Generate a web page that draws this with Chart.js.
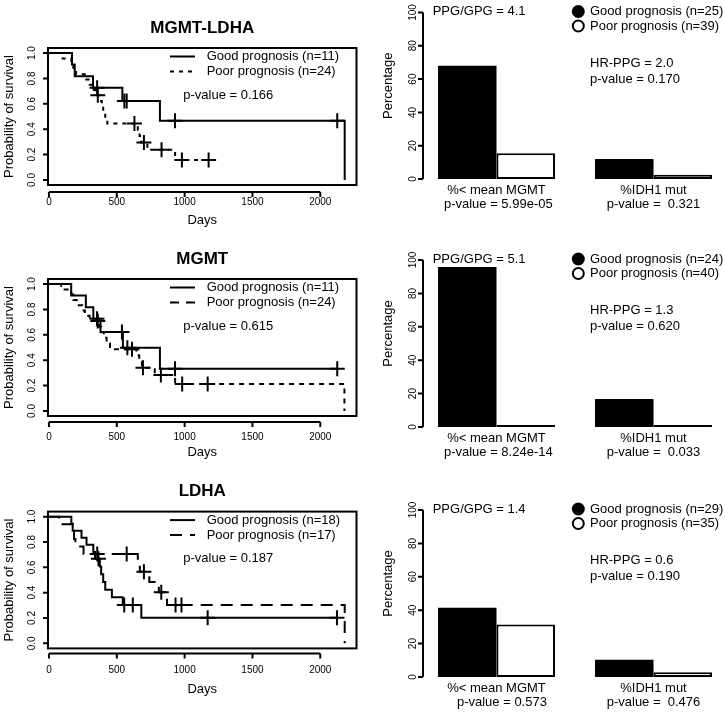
<!DOCTYPE html>
<html>
<head>
<meta charset="utf-8">
<title>Survival and prognosis groups</title>
<script src="https://cdn.jsdelivr.net/npm/chart.js@4.4.1/dist/chart.umd.min.js"></script>
<style>
  html, body { margin: 0; padding: 0; background: #ffffff; width: 725px; height: 712px; overflow: hidden; }
  canvas { position: absolute; }
</style>
</head>
<body>
<canvas id="km1" width="366" height="230" style="left:0px;top:0px"></canvas>
<canvas id="km2" width="366" height="240" style="left:0px;top:230px"></canvas>
<canvas id="km3" width="366" height="242" style="left:0px;top:470px"></canvas>
<canvas id="bar1" width="375" height="230" style="left:360px;top:0px"></canvas>
<canvas id="bar2" width="375" height="240" style="left:360px;top:230px"></canvas>
<canvas id="bar3" width="375" height="242" style="left:360px;top:470px"></canvas>
<script>
const FONT = '"Liberation Sans", Arial, Helvetica, sans-serif';
Chart.defaults.font.family = FONT;
Chart.defaults.color = '#000';

// ---------- shared axis values ----------
const dayTicks = [0, 500, 1000, 1500, 2000];
const survTicks = [0, 0.2, 0.4, 0.6, 0.8, 1.0];
const survTickLabels = ['0.0', '0.2', '0.4', '0.6', '0.8', '1.0'];
const pctTicks = [0, 20, 40, 60, 80, 100];
const barCategories = ['%< mean MGMT', '%IDH1 mut'];
const kmXTitle = 'Days';
const kmYTitle = 'Probability of survival';
const barYTitle = 'Percentage';

// ---------- Panel 1: MGMT-LDHA ----------
const km1Title = 'MGMT-LDHA';
const km1Legend = ['Good prognosis (n=11)', 'Poor prognosis (n=24)'];
const km1PValue = 'p-value = 0.166';
const km1GoodDays = [0, 170, 190, 325, 541, 818, 2180];
const km1GoodSurv = [1, 0.909, 0.818, 0.727, 0.623, 0.467, 0];
const km1GoodCensDays = [355, 556, 573, 929, 2125];
const km1GoodCensSurv = [0.727, 0.623, 0.623, 0.467, 0.467];
const km1PoorDays = [0, 90, 165, 180, 200, 275, 300, 330, 345, 375, 390, 400, 415, 430, 655, 668, 680, 725, 930, 1177];
const km1PoorSurv = [1, 0.958, 0.917, 0.875, 0.833, 0.792, 0.75, 0.708, 0.667, 0.622, 0.578, 0.533, 0.489, 0.444, 0.395, 0.346, 0.296, 0.237, 0.158, 0.158];
const km1PoorCensDays = [360, 630, 700, 830, 980, 1177];
const km1PoorCensSurv = [0.667, 0.444, 0.296, 0.237, 0.158, 0.158];

// ---------- Panel 2: MGMT ----------
const km2Title = 'MGMT';
const km2Legend = ['Good prognosis (n=11)', 'Poor prognosis (n=24)'];
const km2PValue = 'p-value = 0.615';
const km2GoodDays = [0, 164, 272, 327, 380, 545, 818, 2125];
const km2GoodSurv = [1, 0.909, 0.818, 0.727, 0.623, 0.498, 0.332, 0.332];
const km2GoodCensDays = [354, 538, 578, 929, 2125];
const km2GoodCensSurv = [0.727, 0.623, 0.498, 0.332, 0.332];
const km2PoorDays = [0, 90, 165, 180, 205, 245, 265, 300, 370, 385, 405, 425, 450, 645, 665, 685, 780, 930, 2178];
const km2PoorSurv = [1, 0.958, 0.917, 0.875, 0.833, 0.792, 0.75, 0.708, 0.664, 0.62, 0.576, 0.531, 0.487, 0.438, 0.39, 0.341, 0.284, 0.213, 0];
const km2PoorCensDays = [360, 612, 693, 825, 982, 1170];
const km2PoorCensSurv = [0.708, 0.487, 0.341, 0.284, 0.213, 0.213];

// ---------- Panel 3: LDHA ----------
const km3Title = 'LDHA';
const km3Legend = ['Good prognosis (n=18)', 'Poor prognosis (n=17)'];
const km3PValue = 'p-value = 0.187';
const km3GoodDays = [0, 165, 175, 240, 277, 327, 340, 375, 385, 400, 415, 464, 544, 681, 2123];
const km3GoodSurv = [1, 0.944, 0.889, 0.833, 0.778, 0.722, 0.667, 0.606, 0.545, 0.485, 0.424, 0.364, 0.303, 0.202, 0.202];
const km3GoodCensDays = [365, 555, 618, 1170, 2123];
const km3GoodCensSurv = [0.667, 0.303, 0.303, 0.202, 0.202];
const km3PoorDays = [0, 75, 175, 185, 195, 255, 655, 670, 740, 810, 870, 2180];
const km3PoorSurv = [1, 0.941, 0.882, 0.824, 0.765, 0.706, 0.635, 0.565, 0.484, 0.404, 0.303, 0];
const km3PoorCensDays = [356, 573, 700, 828, 933, 977];
const km3PoorCensSurv = [0.706, 0.706, 0.565, 0.404, 0.303, 0.303];

// ---------- Bar panels ----------
const bar1Good = [68, 12];
const bar1Poor = [15.4, 2.6];
const bar1Legend = ['Good prognosis (n=25)', 'Poor prognosis (n=39)'];
const bar1Ratio = 'PPG/GPG = 4.1';
const bar1HR = ['HR-PPG = 2.0', 'p-value = 0.170'];
const bar1PValues = [' p-value = 5.99e-05', 'p-value =  0.321'];

const bar2Good = [95.8, 16.7];
const bar2Poor = [0, 0];
const bar2Legend = ['Good prognosis (n=24)', 'Poor prognosis (n=40)'];
const bar2Ratio = 'PPG/GPG = 5.1';
const bar2HR = ['HR-PPG = 1.3', 'p-value = 0.620'];
const bar2PValues = [' p-value = 8.24e-14', 'p-value =  0.033'];

const bar3Good = [41.4, 10.3];
const bar3Poor = [31.4, 2.9];
const bar3Legend = ['Good prognosis (n=29)', 'Poor prognosis (n=35)'];
const bar3Ratio = 'PPG/GPG = 1.4';
const bar3HR = ['HR-PPG = 0.6', 'p-value = 0.190'];
const bar3PValues = ['   p-value = 0.573', 'p-value =  0.476'];

// ---------- helpers ----------
const pts = (xs, ys) => xs.map((d, i) => ({ x: d, y: ys[i] }));

function rotText(ctx, text, x, y) {
  ctx.save();
  ctx.translate(x, y);
  ctx.rotate(-Math.PI / 2);
  ctx.fillText(text, 0, 0);
  ctx.restore();
}

function kmDecor(cfg) {
  return {
    id: 'kmDecor',
    afterDraw(chart) {
      const { ctx, chartArea: a } = chart;
      const xs = chart.scales.x, ys = chart.scales.y;
      const cx = (a.left + a.right) / 2;
      ctx.save();
      ctx.strokeStyle = '#000';
      ctx.fillStyle = '#000';
      ctx.lineWidth = 2;
      ctx.setLineDash([]);
      ctx.strokeRect(a.left, a.top, a.right - a.left, a.bottom - a.top);
      const ay = a.bottom + cfg.axisGap;
      ctx.beginPath();
      ctx.moveTo(xs.getPixelForValue(dayTicks[0]), ay);
      ctx.lineTo(xs.getPixelForValue(dayTicks[dayTicks.length - 1]), ay);
      dayTicks.forEach(v => { const px = xs.getPixelForValue(v); ctx.moveTo(px, ay); ctx.lineTo(px, ay + 5); });
      survTicks.forEach(v => { const py = ys.getPixelForValue(v); ctx.moveTo(a.left, py); ctx.lineTo(a.left - 5, py); });
      ctx.stroke();
      ctx.textAlign = 'center';
      ctx.textBaseline = 'middle';
      ctx.font = '10px ' + FONT;
      survTicks.forEach((v, i) => rotText(ctx, survTickLabels[i], a.left - 16, ys.getPixelForValue(v)));
      ctx.font = '13px ' + FONT;
      rotText(ctx, kmYTitle, a.left - 39, (a.top + a.bottom) / 2);
      ctx.fillText(kmXTitle, cx, a.bottom + cfg.daysGap);
      ctx.font = 'bold 17px ' + FONT;
      ctx.fillText(cfg.title, cx, a.top - 20);
      // legend
      ctx.font = '13px ' + FONT;
      ctx.textAlign = 'left';
      const l0 = a.left + 122, l1 = a.left + 147, tx = a.left + 158.7;
      ctx.beginPath(); ctx.moveTo(l0, a.top + 8.5); ctx.lineTo(l1, a.top + 8.5); ctx.stroke();
      ctx.setLineDash(cfg.legendDash);
      ctx.beginPath(); ctx.moveTo(l0, a.top + 23.5); ctx.lineTo(l1, a.top + 23.5); ctx.stroke();
      ctx.setLineDash([]);
      ctx.fillText(cfg.legend[0], tx, a.top + 8.5);
      ctx.fillText(cfg.legend[1], tx, a.top + 23.5);
      ctx.fillText(cfg.pValue, a.left + 135.3, a.top + 47);
      ctx.restore();
    }
  };
}

function kmChart(id, cfg) {
  return new Chart(document.getElementById(id), {
    type: 'line',
    data: {
      datasets: [
        { label: cfg.legend[0], data: pts(cfg.goodDays, cfg.goodSurv), stepped: 'before',
          borderColor: '#000', borderWidth: 2, pointRadius: 0, fill: false },
        { label: cfg.legend[1], data: pts(cfg.poorDays, cfg.poorSurv), stepped: 'before',
          borderColor: '#000', borderWidth: 2, borderDash: cfg.poorDash, pointRadius: 0, fill: false },
        { label: 'Censored (good)', data: pts(cfg.goodCensDays, cfg.goodCensSurv), showLine: false,
          pointStyle: 'cross', pointRadius: 7.5, pointBorderWidth: 2, pointBorderColor: '#000', pointBackgroundColor: '#000' },
        { label: 'Censored (poor)', data: pts(cfg.poorCensDays, cfg.poorCensSurv), showLine: false,
          pointStyle: 'cross', pointRadius: 7.5, pointBorderWidth: 2, pointBorderColor: '#000', pointBackgroundColor: '#000' }
      ]
    },
    options: {
      responsive: false,
      animation: false,
      events: [],
      layout: { padding: { top: cfg.padTop, right: 3, bottom: 0, left: 0 } },
      plugins: { legend: { display: false }, tooltip: { enabled: false }, title: { display: false } },
      scales: {
        x: {
          type: 'linear', min: -7, max: 2267,
          afterBuildTicks: s => { s.ticks = dayTicks.map(v => ({ value: v })); },
          ticks: { autoSkip: false, maxRotation: 0, padding: cfg.tickPad, font: { size: 10 }, color: '#000', callback: v => String(v) },
          grid: { display: false, drawTicks: false },
          border: { display: false },
          afterFit: s => { s.height = cfg.xHeight; }
        },
        y: {
          type: 'linear', min: -0.04, max: 1.04,
          afterBuildTicks: s => { s.ticks = survTicks.map(v => ({ value: v })); },
          ticks: { display: false },
          grid: { display: false, drawTicks: false },
          border: { display: false },
          afterFit: s => { s.width = 48; }
        }
      }
    },
    plugins: [kmDecor(cfg)]
  });
}

function barDecor(cfg) {
  return {
    id: 'barDecor',
    afterDraw(chart) {
      const { ctx, chartArea: a } = chart;
      const ys = chart.scales.y;
      const axisX = a.left + 5;
      const y100 = ys.getPixelForValue(100);
      ctx.save();
      ctx.strokeStyle = '#000';
      ctx.fillStyle = '#000';
      ctx.lineWidth = 2;
      ctx.beginPath();
      ctx.moveTo(axisX, ys.getPixelForValue(pctTicks[0]));
      ctx.lineTo(axisX, ys.getPixelForValue(pctTicks[pctTicks.length - 1]));
      pctTicks.forEach(v => { const py = ys.getPixelForValue(v); ctx.moveTo(axisX, py); ctx.lineTo(axisX - 5, py); });
      ctx.stroke();
      ctx.textAlign = 'center';
      ctx.textBaseline = 'middle';
      ctx.font = '10px ' + FONT;
      pctTicks.forEach(v => rotText(ctx, String(v), axisX - 10, ys.getPixelForValue(v)));
      ctx.font = '13px ' + FONT;
      rotText(ctx, barYTitle, a.left - 30, ys.getPixelForValue(56));
      ctx.textAlign = 'left';
      ctx.fillText(cfg.ratio, a.left + 14.7, y100 - 1);
      // legend
      const cxl = a.left + 160.3, tx = a.left + 172;
      const r1 = y100 - 1, r2 = y100 + 13.5;
      ctx.beginPath(); ctx.arc(cxl, r1, 6.5, 0, Math.PI * 2); ctx.fill();
      ctx.fillStyle = '#fff';
      ctx.beginPath(); ctx.arc(cxl, r2, 5.5, 0, Math.PI * 2); ctx.fill(); ctx.stroke();
      ctx.fillStyle = '#000';
      ctx.fillText(cfg.legend[0], tx, r1);
      ctx.fillText(cfg.legend[1], tx, r2);
      ctx.fillText(cfg.hr[0], tx, y100 + 50.5);
      ctx.fillText(cfg.hr[1], tx, y100 + 66.5);
      ctx.restore();
    }
  };
}

function barChart(id, cfg) {
  return new Chart(document.getElementById(id), {
    type: 'bar',
    data: {
      labels: barCategories.map((c, i) => [c, cfg.pValues[i]]),
      datasets: [
        { label: cfg.legend[0], data: cfg.good, backgroundColor: '#000', borderColor: '#000', borderWidth: 0 },
        { label: cfg.legend[1], data: cfg.poor, backgroundColor: '#fff', borderColor: '#000', borderWidth: 2,
          borderSkipped: false, minBarLength: 2 }
      ]
    },
    options: {
      responsive: false,
      animation: false,
      events: [],
      layout: { padding: { top: cfg.padTop, right: 3, bottom: 0, left: 0 } },
      plugins: { legend: { display: false }, tooltip: { enabled: false } },
      datasets: { bar: { categoryPercentage: 0.745, barPercentage: 1 } },
      scales: {
        x: {
          type: 'category',
          ticks: { autoSkip: false, maxRotation: 0, minRotation: 0, padding: 4.5, color: '#000', font: { size: 13, lineHeight: 1.077 } },
          grid: { display: false, drawTicks: false },
          border: { display: false },
          afterFit: s => { s.height = cfg.xHeight; }
        },
        y: {
          type: 'linear', min: 0, max: 100,
          afterBuildTicks: s => { s.ticks = pctTicks.map(v => ({ value: v })); },
          ticks: { display: false },
          grid: { display: false, drawTicks: false },
          border: { display: false },
          afterFit: s => { s.width = 58; }
        }
      }
    },
    plugins: [barDecor(cfg)]
  });
}

// ---------- build ----------
kmChart('km1', { title: km1Title, legend: km1Legend, pValue: km1PValue,
  goodDays: km1GoodDays, goodSurv: km1GoodSurv, goodCensDays: km1GoodCensDays, goodCensSurv: km1GoodCensSurv,
  poorDays: km1PoorDays, poorSurv: km1PoorSurv, poorCensDays: km1PoorCensDays, poorCensSurv: km1PoorCensSurv,
  poorDash: [4, 5], legendDash: [4, 5], padTop: 48, xHeight: 45, tickPad: 11, axisGap: 7, daysGap: 35 });

kmChart('km2', { title: km2Title, legend: km2Legend, pValue: km2PValue,
  goodDays: km2GoodDays, goodSurv: km2GoodSurv, goodCensDays: km2GoodCensDays, goodCensSurv: km2GoodCensSurv,
  poorDays: km2PoorDays, poorSurv: km2PoorSurv, poorCensDays: km2PoorCensDays, poorCensSurv: km2PoorCensSurv,
  poorDash: [5, 5], legendDash: [9, 7], padTop: 49, xHeight: 54, tickPad: 15, axisGap: 6, daysGap: 36 });

kmChart('km3', { title: km3Title, legend: km3Legend, pValue: km3PValue,
  goodDays: km3GoodDays, goodSurv: km3GoodSurv, goodCensDays: km3GoodCensDays, goodCensSurv: km3GoodCensSurv,
  poorDays: km3PoorDays, poorSurv: km3PoorSurv, poorCensDays: km3PoorCensDays, poorCensSurv: km3PoorCensSurv,
  poorDash: [12, 8], legendDash: [12, 8], padTop: 41.6, xHeight: 63.6, tickPad: 16, axisGap: 5, daysGap: 41 });

barChart('bar1', { good: bar1Good, poor: bar1Poor, legend: bar1Legend, ratio: bar1Ratio, hr: bar1HR,
  pValues: bar1PValues, padTop: 12.5, xHeight: 51 });
barChart('bar2', { good: bar2Good, poor: bar2Poor, legend: bar2Legend, ratio: bar2Ratio, hr: bar2HR,
  pValues: bar2PValues, padTop: 30, xHeight: 43 });
barChart('bar3', { good: bar3Good, poor: bar3Poor, legend: bar3Legend, ratio: bar3Ratio, hr: bar3HR,
  pValues: bar3PValues, padTop: 40, xHeight: 35 });
</script>
</body>
</html>
